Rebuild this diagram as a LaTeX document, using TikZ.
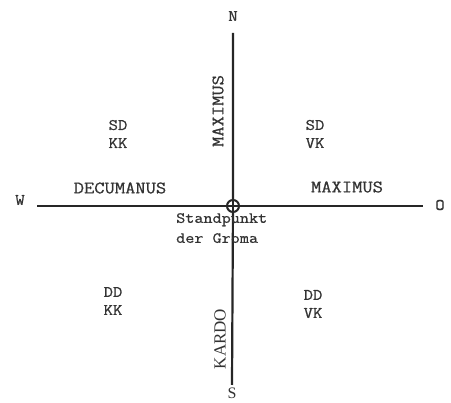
\documentclass[tikz,border=0pt]{standalone}
\usepackage{fontspec}
\setmainfont[FakeStretch=1.14,FakeBold=0.8]{Latin Modern Mono}
\newfontfamily\serifx{Liberation Serif}
\begin{document}
\begin{tikzpicture}[x=1pt,y=-1pt,
  lbl/.style={inner sep=0pt,text=black!80,font=\fontsize{16}{19}\selectfont},
  ax/.style={line width=2.2pt,black!85}]
\useasboundingbox (0,0) rectangle (451,403);
\coordinate (c) at (233,206);
\coordinate (nt) at (233,33);
\coordinate (sb) at (232,385);
\coordinate (wl) at (37,206);
\coordinate (er) at (423,206);
\draw[ax] (nt) -- (c) -- (sb);
\draw[ax] (wl) -- (c) -- (er);
\node[circle,draw=black!85,line width=2pt,minimum size=12pt,inner sep=0pt,fill=white] (g) at (c) {};
\draw[line width=1.4pt,black!85] (g.north) -- (g.south) (g.west) -- (g.east);
\node[lbl] (N) at (233,16) {N};
\node[lbl,font=\serifx\fontsize{16}{19}\selectfont] (S) at (232,393) {S};
\node[lbl] (W) at (20,200) {W};
\node[lbl] (O) at (440,205) {O};
\node[lbl,font=\fontsize{17.5}{20}\selectfont] (dec) at (120,188) {DECUMANUS};
\node[lbl,font=\fontsize{17.5}{20}\selectfont] (maxr) at (347,187) {MAXIMUS};
\node[lbl,rotate=90,font=\fontsize{17.5}{20}\selectfont] (maxv) at (218,111) {MAXIMUS};
\node[lbl,rotate=90,font=\serifx\fontsize{17}{20}\selectfont] (kardo) at (220,339) {KARDO};
\node[lbl,align=center,font=\fontsize{16}{18}\selectfont] (q1) at (118,134) {SD\\KK};
\node[lbl,align=center,font=\fontsize{16}{18}\selectfont] (q2) at (315,134) {SD\\VK};
\node[lbl,align=center,font=\fontsize{16}{18}\selectfont] (q3) at (113,301) {DD\\KK};
\node[lbl,align=center,font=\fontsize{16}{18}\selectfont] (q4) at (313,304) {DD\\VK};
\node[lbl,align=left,font=\fontsize{15.5}{20}\selectfont,anchor=north west] (st) at (176,213) {Standpunkt\\der Groma};
\end{tikzpicture}
\end{document}
